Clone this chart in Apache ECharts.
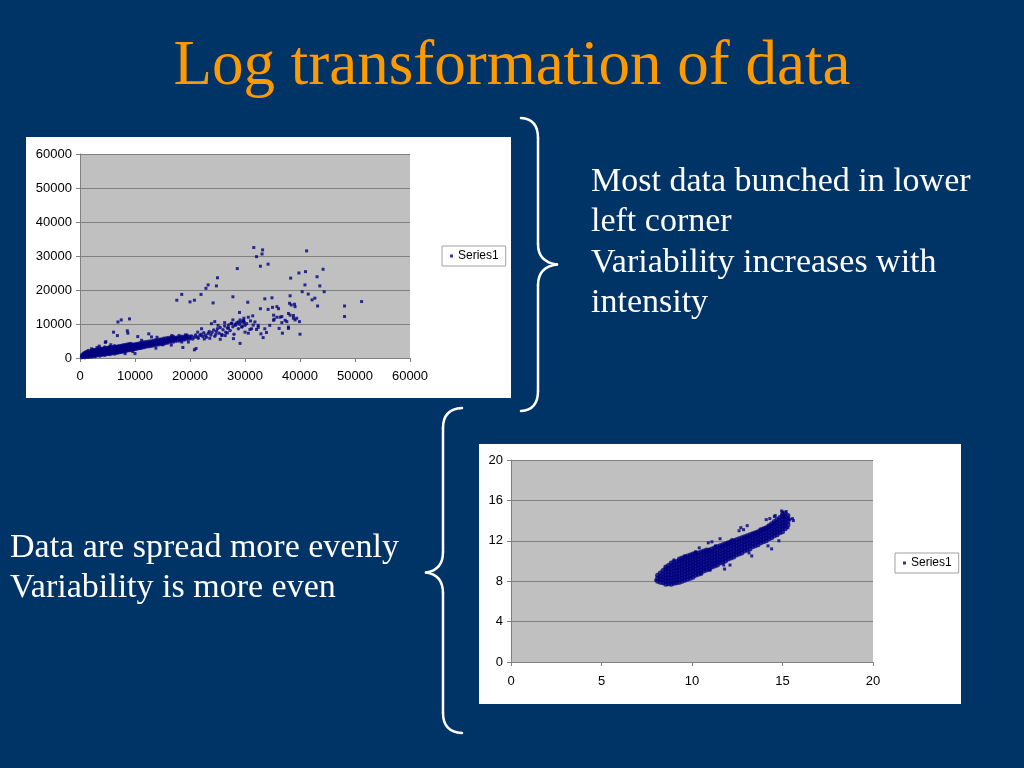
<!DOCTYPE html>
<html><head><meta charset="utf-8">
<script src="https://cdn.jsdelivr.net/npm/echarts@6/dist/echarts.min.js"></script>
<style>html,body{margin:0;padding:0;background:#003366;}#c{width:1024px;height:768px;}</style>
</head><body><div id="c"></div><script>
// ---- tick values ----
const topTicks = [0, 10000, 20000, 30000, 40000, 50000, 60000];
const bottomXTicks = [0, 5, 10, 15, 20];
const bottomYTicks = [0, 4, 8, 12, 16, 20];
const seriesName = 'Series1';

// ---- top chart (raw intensities): dense lower band, [x, y1, y2, ...] per column ----
const topBand = [
[300,100,500,900],[600,200,600,1000,1400],[900,100,500,900,1300,1700],[1200,300,700,1100,1500,1900],
[1500,200,600,1000,1400,1800,2200],[1800,400,800,1200,1600,2000],[2100,300,700,1100,1500,1900,2300],
[2400,500,900,1300,1700,2100,2500],[2700,400,800,1200,1600,2000,2400],[3000,600,1000,1400,1800,2200,2600],
[3300,700,1100,1500,1900,2300,2700],[3600,600,1000,1400,1800,2200,2600,3000],[3900,800,1200,1600,2000,2400,2800],
[4200,900,1300,1700,2100,2500,2900],[4500,800,1200,1600,2000,2400,2800,3200],[4800,1000,1400,1800,2200,2600,3000],
[5100,1100,1500,1900,2300,2700,3100],[5400,1000,1400,1800,2200,2600,3000,3400],[5700,1200,1600,2000,2400,2800,3200],
[6000,1300,1700,2100,2500,2900,3300],[6300,1200,1600,2000,2400,2800,3200,3600],[6600,1400,1800,2200,2600,3000,3400],
[6900,1500,1900,2300,2700,3100,3500],[7200,1600,2000,2400,2800,3200,3600],[7500,1700,2100,2500,2900,3300,3700],
[7800,1800,2200,2600,3000,3400,3800],[8100,1900,2300,2700,3100,3500,3900],[8400,2000,2400,2800,3200,3600,4000],
[8700,2100,2500,2900,3300,3700,4100],[9000,2200,2600,3000,3400,3800,4200],[9300,2300,2700,3100,3500,3900,4300],
[9600,2400,2800,3200,3600,4000],[9900,2500,2900,3300,3700,4100],[10200,2600,3000,3400,3800,4200],
[10500,2700,3100,3500,3900,4300],[10800,2800,3200,3600,4000,4400],[11100,2900,3300,3700,4100,4500],
[11400,3000,3400,3800,4200,4600],[11700,3100,3500,3900,4300,4700],[12000,3200,3600,4000,4400,4800],
[12400,3300,3700,4100,4500,4900],[12800,3400,3800,4200,4600,5000],[13200,3500,3900,4300,4700,5100],
[13600,3700,4100,4500,4900,5300],[14000,3800,4200,4600,5000,5400],[14400,3900,4300,4700,5100,5500],
[14800,4000,4400,4800,5200,5600],[15200,4200,4600,5000,5400,5800],[15600,4300,4700,5100,5500,5900],
[16000,4400,4800,5200,5600,6000],[16500,4600,5000,5400,5800,6200],[17000,4700,5100,5500,5900,6300],
[17500,4900,5300,5700,6100],[18000,5000,5400,5800,6200,6600],[18500,5200,5600,6000,6400],
[19000,5300,5700,6100,6500],[19500,5500,5900,6300,6700],[20000,5600,6000,6400]
];

// ---- top chart: band beyond 20000 (sparser) ----
const topTail = [
[20300,6500],[20500,5600],[20800,6100],[21000,6800],[21300,6200],[21500,5800],[21800,6600],[22000,7000],[22300,6300],[22500,7400],
[22800,6700],[23000,6100],[23300,7200],[23500,7800],[23800,6800],[24000,7500],[24300,8200],[24500,6400],[24800,7900],[25000,8600],
[25300,7300],[25500,9000],[25800,6900],[26000,8300],[26300,9400],[26500,7600],[26800,8800],[27000,9700],[27300,8100],[27500,10200],
[27800,9200],[28000,7000],[28300,9600],[28500,10400],[28800,8600],[29000,9900],[29300,10600],[29500,9300],[29800,10800],[30000,9600]
];

// ---- top chart: scattered points and outliers ----
const topSpread = [
[6900,10600],[9000,11500],[7500,11200],[8600,8000],[8700,7300],[6100,7600],[6800,6600],[4700,4800],[4600,4600],[12500,7100],
[14000,6100],[10500,6300],[13000,6200],[2100,2700],[3500,3500],[8200,1300],[10000,1300],[18700,3100],[16700,6600],[17600,5900],
[18500,4700],[19700,4700],[17600,17000],[18500,18700],[20000,16500],[20800,17000],[22000,18700],[22900,20500],[23300,21500],[25000,23600],
[24800,21200],[24200,16200],[27800,18000],[28600,26300],[29000,13400],[21100,2800],[20800,2400],[24500,10700],[26300,10400],[27800,11200],
[29800,10400],[22100,8600],[23900,10100],[25100,9600],[26400,6600],[27900,5700],[25500,5500],[25800,6600],[27000,8800],[27600,10100],
[28800,10600],[29700,11100],[29400,9100],[30000,7600],[31200,8600],[29100,4300],[31600,32500],[33200,31800],[33100,30600],[32100,29800],
[32800,27000],[34200,27600],[41200,31500],[38300,23500],[39800,25000],[41000,25400],[44200,26100],[43100,23900],[40900,21500],[40400,19500],
[43600,21200],[44400,19500],[41500,18800],[42200,17100],[42700,17600],[43200,15300],[38200,18300],[38100,16100],[38400,15600],[39000,15800],
[39100,15100],[48100,15300],[48100,12200],[51200,16600],[30500,16400],[33600,17400],[34900,17700],[32800,14500],[34200,14300],[35000,14900],
[35800,15100],[38200,12600],[37900,13100],[38800,11700],[39100,11200],[39900,10700],[40000,7000],[35200,12600],[35800,12000],[35300,11400],
[36700,12200],[37600,10700],[36700,10400],[36200,8700],[37900,8700],[36800,7300],[33300,6000],[32900,7100],[33900,7500],[32100,8400],
[32400,9000],[31500,9700],[30900,8400],[30600,7300],[29100,11200],[29800,11700],[31400,12400],[30600,12000],[31800,10600],[32400,9600],
[33600,8600],[34500,9600],[35200,11100],[36400,12000],[37300,11100],[37900,9100],[38800,12500],[39400,11700],[36100,14500],[30300,10100],
[31000,10900],[28200,9900],[26800,7400],[24700,7000],[23600,5800],[22600,5600],[21400,7600],[19200,6800],[16200,5700],[15100,3900],
[11200,5200],[13800,2900],[16600,3800],[9600,1900],[5600,3900],[3100,3100]
];

// ---- bottom chart (log scale): dense band, [x, y1, y2, ...] per column ----
const bottomBand = [
[8.10,8.0,8.3,8.6],[8.25,7.9,8.2,8.5,8.8],[8.40,7.85,8.15,8.45,8.75,9.05],[8.55,7.7,8.0,8.3,8.6,8.9,9.2,9.4],
[8.70,7.75,8.05,8.35,8.65,8.95,9.25,9.55],[8.85,7.7,8.0,8.3,8.6,8.9,9.2,9.5,9.8],[9.00,7.8,8.1,8.4,8.7,9.0,9.3,9.6,9.9],
[9.15,7.85,8.15,8.45,8.75,9.05,9.35,9.65,9.95],[9.30,7.9,8.2,8.5,8.8,9.1,9.4,9.7,10.0,10.2],
[9.45,8.0,8.3,8.6,8.9,9.2,9.5,9.8,10.1,10.3],[9.60,8.1,8.4,8.7,9.0,9.3,9.6,9.9,10.2,10.4],
[9.75,8.2,8.5,8.8,9.1,9.4,9.7,10.0,10.3,10.5],[9.90,8.3,8.6,8.9,9.2,9.5,9.8,10.1,10.4,10.6],
[10.05,8.4,8.7,9.0,9.3,9.6,9.9,10.2,10.5,10.7],[10.20,8.6,8.9,9.2,9.5,9.8,10.1,10.4,10.7,10.8],
[10.35,8.7,9.0,9.3,9.6,9.9,10.2,10.5,10.8],[10.50,8.8,9.1,9.4,9.7,10.0,10.3,10.6,10.9],
[10.65,9.0,9.3,9.6,9.9,10.2,10.5,10.8,11.0],[10.80,9.1,9.4,9.7,10.0,10.3,10.6,10.9,11.1],
[10.95,9.2,9.5,9.8,10.1,10.4,10.7,11.0,11.1],[11.10,9.4,9.7,10.0,10.3,10.6,10.9,11.2],
[11.25,9.5,9.8,10.1,10.4,10.7,11.0,11.3],[11.40,9.6,9.9,10.2,10.5,10.8,11.1,11.4],
[11.55,9.8,10.1,10.4,10.7,11.0,11.3,11.5],[11.70,9.9,10.2,10.5,10.8,11.1,11.4,11.6],
[11.85,10.0,10.3,10.6,10.9,11.2,11.5,11.7],[12.00,10.2,10.5,10.8,11.1,11.4,11.7,11.8],
[12.15,10.3,10.6,10.9,11.2,11.5,11.8,11.9],[12.30,10.4,10.7,11.0,11.3,11.6,11.9,12.0],
[12.45,10.6,10.9,11.2,11.5,11.8,12.1],[12.60,10.7,11.0,11.3,11.6,11.9,12.2],
[12.75,10.8,11.1,11.4,11.7,12.0,12.3],[12.90,11.0,11.3,11.6,11.9,12.2,12.4],
[13.05,11.1,11.4,11.7,12.0,12.3,12.5],[13.20,11.2,11.5,11.8,12.1,12.4,12.6],
[13.35,11.4,11.7,12.0,12.3,12.6,12.7],[13.50,11.5,11.8,12.1,12.4,12.7,12.8],
[13.65,11.6,11.9,12.2,12.5,12.8,12.9],[13.80,11.8,12.1,12.4,12.7,13.0,13.1],
[13.95,11.9,12.2,12.5,12.8,13.1,13.2],[14.10,12.0,12.3,12.6,12.9,13.2,13.3],
[14.25,12.2,12.5,12.8,13.1,13.4,13.5],[14.40,12.3,12.6,12.9,13.2,13.5,13.7],
[14.55,12.5,12.8,13.1,13.4,13.7,13.9],[14.70,12.6,12.9,13.2,13.5,13.8,14.1],
[14.85,12.8,13.1,13.4,13.7,14.0,14.3],[15.00,12.9,13.2,13.5,13.8,14.1,14.4,14.6],
[15.15,13.2,13.5,13.8,14.1,14.4,14.7],[15.30,13.6,13.9,14.2,14.5]
];

// ---- bottom chart: points off the band ----
const bottomSpread = [
[10.4,11.3],[10.9,11.8],[11.55,12.2],[11.1,11.9],[12.2,12.1],[12.7,13.3],[13.05,13.5],[12.85,13.1],[12.6,13.0],[14.1,14.1],
[14.3,14.2],[14.55,14.4],[14.6,14.5],[14.95,14.95],[15.0,14.85],[15.2,14.9],[14.2,11.5],[14.4,11.2],[14.8,12.0],[13.3,10.5],
[13.15,10.8],[11.8,9.2],[11.75,9.6],[12.1,9.6],[15.4,14.1],[15.55,14.2],[15.6,14.0],[8.0,8.1],[9.6,10.5],[10.2,10.9],
[11.3,11.5],[15.3,13.3],[9.0,10.1],[10.5,8.7],[11.0,9.1]
];

// flatten band columns into [x, y] points
function flatten(cols) {
  const out = [];
  cols.forEach(function (col) { for (let i = 1; i < col.length; i++) out.push([col[0], col[i]]); });
  return out;
}
const topDense = flatten(topBand).concat(topTail);
const bottomDense = flatten(bottomBand);

const mark = '#000080';
const labelFont = 'Liberation Sans';
function axisCommon(ticks) {
  return {
    type: 'value', min: ticks[0], max: ticks[ticks.length - 1], interval: ticks[1] - ticks[0],
    axisLine: { show: true, onZero: false, lineStyle: { color: '#808080', width: 1 } },
    axisTick: { show: true, length: 4, lineStyle: { color: '#808080' } },
    axisLabel: { color: '#000', fontSize: 13, fontFamily: labelFont, formatter: function (v) { return String(v); } },
    splitLine: { show: false }
  };
}
const tx = axisCommon(topTicks); tx.gridIndex = 0; tx.axisLabel.margin = 12;
const ty = axisCommon(topTicks); ty.gridIndex = 0; ty.axisLabel.margin = 8;
ty.splitLine = { show: true, lineStyle: { color: '#808080', width: 1 } };
const bx = axisCommon(bottomXTicks); bx.gridIndex = 1; bx.axisLabel.margin = 13;
const by = axisCommon(bottomYTicks); by.gridIndex = 1; by.axisLabel.margin = 8;
by.splitLine = { show: true, lineStyle: { color: '#808080', width: 1 } };

const serif = '"Liberation Serif", "Times New Roman", serif';
function txt(s, x, y, size, color, align) {
  return { type: 'text', x: x, y: y, z: 10, silent: true,
    style: { text: s, fill: color, font: size + 'px ' + serif, textAlign: align || 'left', align: align || 'left',
      textVerticalAlign: 'middle', verticalAlign: 'middle' } };
}
function legendBox(left, top) {
  return { left: left, top: top, data: [seriesName], selectedMode: false, backgroundColor: '#fff',
    borderColor: '#a0a0a0', borderWidth: 1, padding: [4, 7, 4, 8], itemWidth: 3, itemHeight: 3, icon: 'rect',
    textStyle: { color: '#000', fontSize: 12, fontFamily: labelFont } };
}
const braceStyle = { stroke: '#ffffff', fill: 'none', lineWidth: 2.5, lineCap: 'round' };
function seg(x1, y1, x2, y2) {
  return { type: 'line', z: 10, silent: true, shape: { x1: x1, y1: y1, x2: x2, y2: y2 }, style: braceStyle };
}
function curve(x1, y1, cx, cy, x2, y2) {
  return { type: 'bezierCurve', z: 10, silent: true, shape: { x1: x1, y1: y1, cpx1: cx, cpy1: cy, x2: x2, y2: y2 }, style: braceStyle };
}

const chart = echarts.init(document.getElementById('c'));
chart.setOption({
  animation: false,
  backgroundColor: '#003366',
  grid: [
    { left: 80, top: 154, width: 330, height: 204, show: true, backgroundColor: '#C0C0C0', borderWidth: 0 },
    { left: 511, top: 460, width: 362, height: 202, show: true, backgroundColor: '#C0C0C0', borderWidth: 0 }
  ],
  xAxis: [tx, bx],
  yAxis: [ty, by],
  legend: [legendBox(442, 246), legendBox(895, 553)],
  series: [
    { name: seriesName, type: 'scatter', xAxisIndex: 0, yAxisIndex: 0, data: topDense, symbol: 'circle', symbolSize: 3.5, itemStyle: { color: mark } },
    { name: seriesName, type: 'scatter', xAxisIndex: 0, yAxisIndex: 0, data: topSpread, symbol: 'rect', symbolSize: 3, itemStyle: { color: mark } },
    { name: seriesName, type: 'scatter', xAxisIndex: 1, yAxisIndex: 1, data: bottomDense, symbol: 'circle', symbolSize: 5, itemStyle: { color: mark } },
    { name: seriesName, type: 'scatter', xAxisIndex: 1, yAxisIndex: 1, data: bottomSpread, symbol: 'rect', symbolSize: 3, itemStyle: { color: mark } }
  ],
  graphic: [
    { type: 'rect', z: -10, silent: true, shape: { x: 26, y: 137, width: 485, height: 261 }, style: { fill: '#ffffff' } },
    { type: 'rect', z: -10, silent: true, shape: { x: 479, y: 444, width: 482, height: 260 }, style: { fill: '#ffffff' } },
    txt('Log transformation of data', 512, 67, 63, '#FF9900', 'center'),
    txt('Most data bunched in lower', 591, 182.5, 34, '#ffffff'),
    txt('left corner', 591, 222.5, 34, '#ffffff'),
    txt('Variability increases with', 591, 263.5, 34, '#ffffff'),
    txt('intensity', 591, 303.5, 34, '#ffffff'),
    txt('Data are spread more evenly', 10, 548.5, 34, '#ffffff'),
    txt('Variability is more even', 10, 588.5, 34, '#ffffff'),
    // right brace
    curve(521, 118, 538, 119, 538, 138), seg(538, 138, 538, 244),
    curve(538, 244, 538, 262, 557, 264.5), curve(557, 264.5, 538, 267, 538, 285),
    seg(538, 285, 538, 391), curve(538, 391, 538, 410, 521, 411),
    // left brace
    curve(462, 408, 443, 409, 443, 428), seg(443, 428, 443, 552),
    curve(443, 552, 443, 570, 426, 572.5), curve(426, 572.5, 443, 575, 443, 593),
    seg(443, 593, 443, 713), curve(443, 713, 443, 732, 462, 733)
  ]
});
</script></body></html>
